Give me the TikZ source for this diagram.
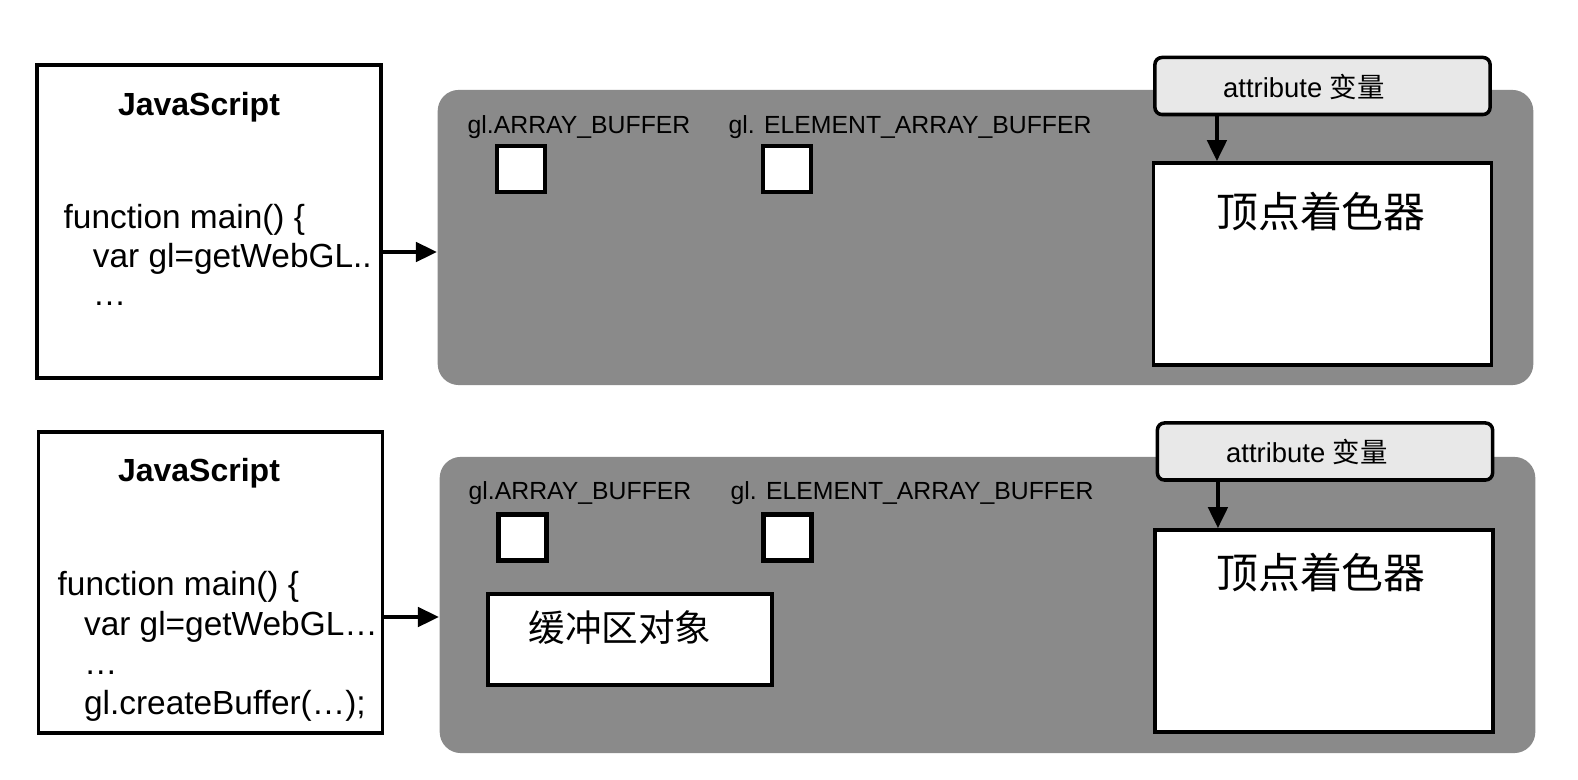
\documentclass[tikz,border=0pt]{standalone}
\usepackage{fontspec}
\setmainfont{Liberation Sans}
\newfontfamily\cjk{Noto Sans CJK SC}
\usetikzlibrary{arrows.meta}
\definecolor{panelgray}{RGB}{138,138,138}
\definecolor{attrgray}{RGB}{232,232,232}

\begin{document}
\begin{tikzpicture}[
  x=0.01cm, y=-0.01cm,
  jsbox/.style={draw, rectangle, line width=1pt, fill=white, inner sep=0pt, minimum width=3.44cm},
  jstitle/.style={font=\fontsize{9.1}{11}\selectfont\bfseries, inner sep=0pt},
  jscode/.style={font=\fontsize{9.5}{10.9}\selectfont, align=left, anchor=north west, inner sep=0pt},
  panel/.style={fill=panelgray, rounded corners=6pt, inner sep=0pt, minimum width=10.95cm, minimum height=2.95cm},
  slot/.style={draw, rectangle, line width=1.2pt, fill=white, minimum width=0.48cm, minimum height=0.46cm, inner sep=0pt},
  slotlabel/.style={font=\fontsize{7.05}{8}\selectfont, inner sep=0pt},
  attrbox/.style={draw, rounded corners=2pt, line width=1pt, fill=attrgray, minimum width=3.35cm, minimum height=0.57cm, inner sep=0pt},
  attrtext/.style={font=\fontsize{7.8}{9}\selectfont, inner sep=0pt},
  shader/.style={draw, rectangle, line width=1pt, fill=white, minimum width=3.38cm, minimum height=2.02cm, inner sep=0pt},
  cjktext/.style={font=\fontsize{11.9}{14}\selectfont\cjk, inner sep=0pt},
  arr/.style={-{Triangle[length=6pt,width=5.5pt]}, line width=1.1pt},
]
\useasboundingbox (0,0) rectangle (1578,780);

% upper row: before the buffer is created
\node (js1) [jsbox, minimum height=3.13cm] at (209,221.5) {};
\node (js1title) [jstitle] at (199,107) {JavaScript};
\node (js1code) [jscode] at (63,204) {function main() \{\\\hspace*{8.3pt}var gl=getWebGL..\\\hspace*{8.3pt}\ldots};

\node (panel1) [panel] at (985.5,237.5) {};
\node (ab1label) [slotlabel] at (579,127) {gl.ARRAY\_BUFFER};
\node (eab1label) [slotlabel, anchor=west] at (728,127) {gl. ELEMENT\_ARRAY\_BUFFER};
\node (ab1) [slot] at (521,169) {};
\node (eab1) [slot] at (787,169) {};

\node (attr1) [attrbox] at (1322.5,86) {};
\node (attr1text) [attrtext] at (1304,87) {attribute {\cjk 变量}};
\node (shader1) [shader] at (1322.5,264) {};
\node (shader1text) [cjktext] at (1321,212) {顶点着色器};

\draw[arr] ([yshift=-0.305cm]js1.east) -- ([yshift=-0.305cm]js1.east -| panel1.west);
\draw[arr] ([xshift=-1.055cm]attr1.south) -- ([xshift=-1.055cm]shader1.north);

% lower row: gl.createBuffer() gives a buffer object
\node (js2) [jsbox, minimum height=3.01cm] at (210.5,582.5) {};
\node (js2title) [jstitle] at (199,473) {JavaScript};
\node (js2code) [jscode, font=\fontsize{9.5}{11.2}\selectfont] at (57,571) {function main() \{\\\hspace*{7.5pt}var gl=getWebGL\ldots\\\hspace*{7.5pt}\ldots\\\hspace*{7.5pt}gl.createBuffer(\ldots);};

\node (panel2) [panel, minimum height=2.96cm] at (987.5,605) {};
\node (ab2label) [slotlabel] at (580,493) {gl.ARRAY\_BUFFER};
\node (eab2label) [slotlabel, anchor=west] at (730,493) {gl. ELEMENT\_ARRAY\_BUFFER};
\node (ab2) [slot] at (522.5,537.5) {};
\node (eab2) [slot] at (787.5,537.5) {};
\node (bufobj) [draw, rectangle, line width=1pt, fill=white, minimum width=2.84cm, minimum height=0.91cm, inner sep=0pt] at (630,639.5) {};
\node (bufobjtext) [cjktext, font=\fontsize{10.4}{12}\selectfont\cjk] at (620,628) {缓冲区对象};

\node (attr2) [attrbox] at (1325,451.5) {};
\node (attr2text) [attrtext] at (1307,452) {attribute {\cjk 变量}};
\node (shader2) [shader] at (1324,631) {};
\node (shader2text) [cjktext] at (1321,573) {顶点着色器};

\draw[arr] ([yshift=-0.345cm]js2.east) -- ([yshift=-0.345cm]js2.east -| panel2.west);
\draw[arr] ([xshift=-1.07cm]attr2.south) -- ([xshift=-1.06cm]shader2.north);

\end{tikzpicture}
\end{document}
